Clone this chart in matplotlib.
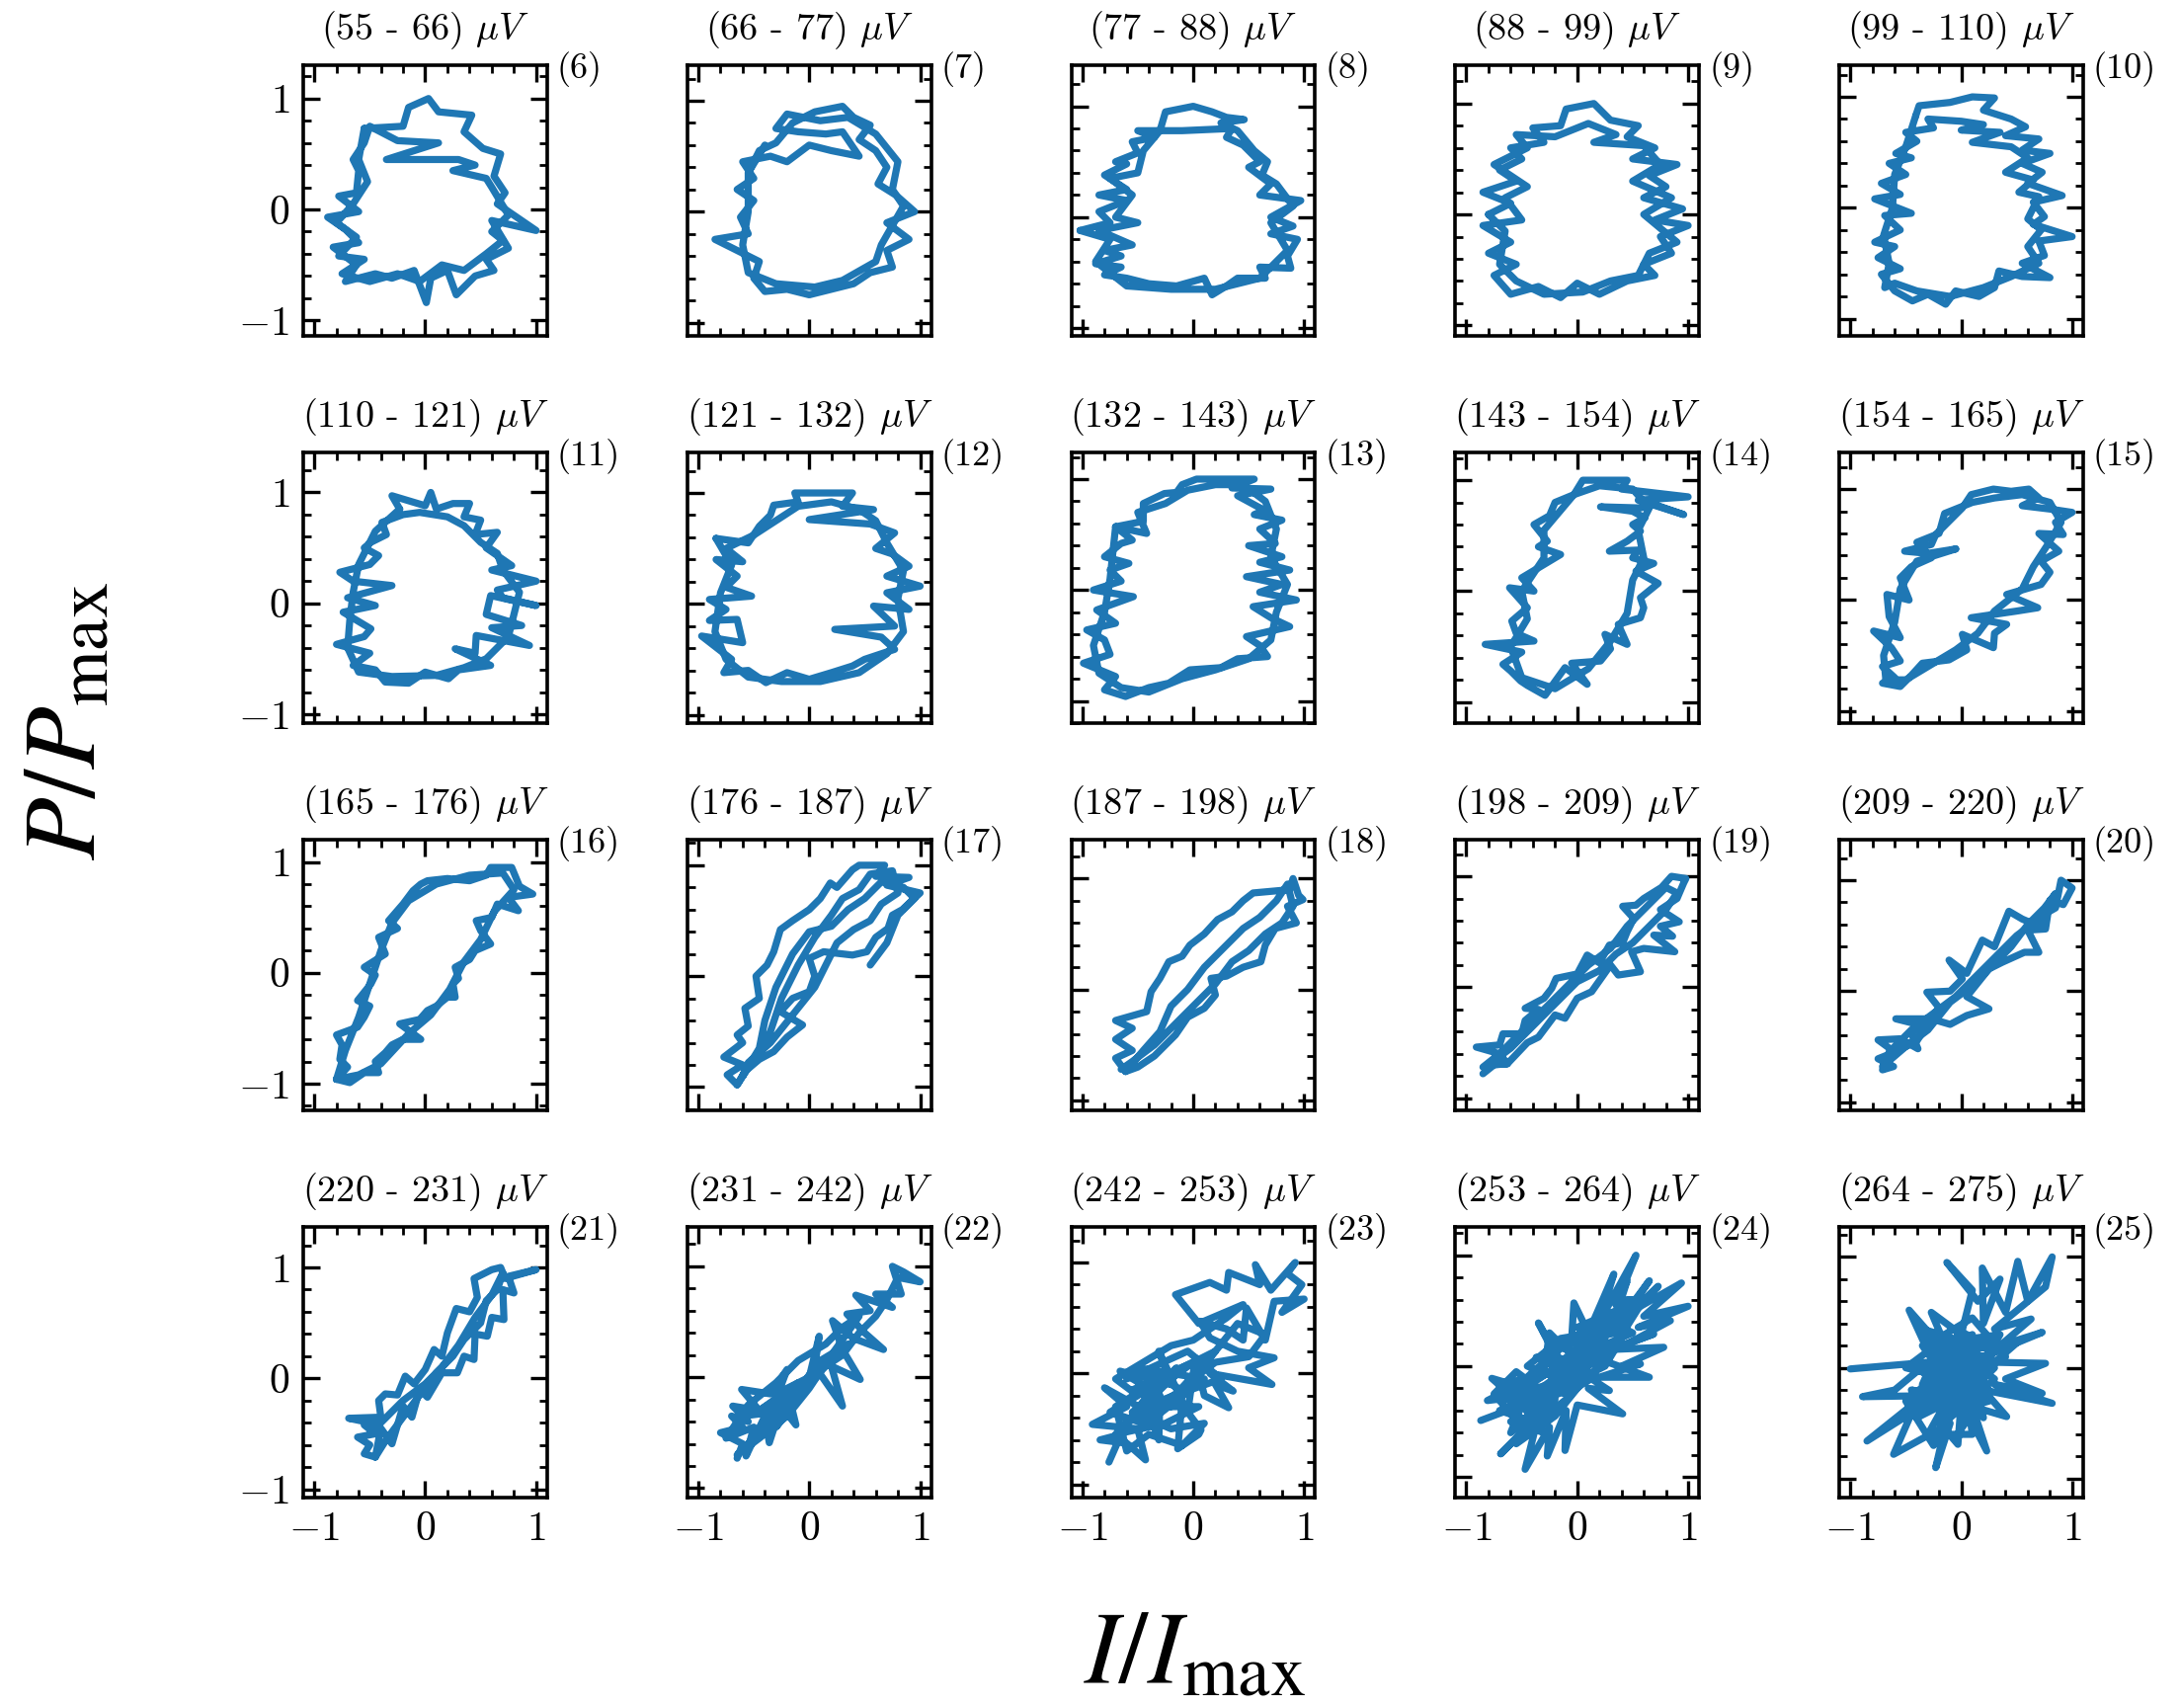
import numpy as np
import matplotlib
matplotlib.use('Agg')
import matplotlib.pyplot as plt
from matplotlib.ticker import MultipleLocator

plt.rcParams.update({
    'font.family': 'serif',
    'font.serif': ['cmr10'],
    'mathtext.fontset': 'cm',
    'axes.formatter.use_mathtext': True,
    'axes.linewidth': 2.6,
    'xtick.direction': 'in',
    'ytick.direction': 'in',
    'xtick.top': True,
    'ytick.right': True,
    'xtick.major.size': 12,
    'ytick.major.size': 12,
    'xtick.minor.size': 6,
    'ytick.minor.size': 6,
    'xtick.major.width': 2.4,
    'ytick.major.width': 2.4,
    'xtick.minor.width': 2.0,
    'ytick.minor.width': 2.0,
    'xtick.major.pad': 10,
    'ytick.major.pad': 10,
    'xtick.labelsize': 30,
    'ytick.labelsize': 30,
})

C_LOOP = '#1f77b4'

# voltage window edges (uV) and run numbers of each panel
v_edges = [55, 66, 77, 88, 99, 110, 121, 132, 143, 154, 165,
           176, 187, 198, 209, 220, 231, 242, 253, 264, 275]
run_ids = list(range(6, 26))

# normalised (I/Imax, P/Pmax) loops, one array per run
loop_06 = np.array([
    (-0.55, 0.73), (-0.2, 0.75), (-0.15, 0.92), (0.03, 1.0), (0.12, 0.88), (0.42, 0.85), (0.35, 0.7),
    (0.52, 0.55), (0.68, 0.5), (0.62, 0.3), (0.72, 0.15), (0.65, 0.05), (1.0, -0.19), (0.6, -0.1),
    (0.75, -0.35), (0.55, -0.45), (0.62, -0.55), (0.45, -0.6), (0.28, -0.77), (0.2, -0.55), (0.05, -0.62),
    (0.01, -0.84), (-0.1, -0.55), (-0.3, -0.62), (-0.45, -0.58), (-0.72, -0.65), (-0.62, -0.5),
    (-0.83, -0.34), (-0.6, -0.3), (-0.72, -0.18), (-0.88, -0.07), (-0.6, -0.02), (-0.78, 0.12),
    (-0.62, 0.15), (-0.6, 0.35), (-0.65, 0.45), (-0.55, 0.6), (-0.5, 0.75), (-0.25, 0.62), (0.12, 0.6),
    (-0.35, 0.45), (0.3, 0.45), (0.45, 0.4), (0.25, 0.35), (0.55, 0.28), (0.6, 0.2), (0.75, -0.05),
    (0.6, -0.2), (0.7, -0.28), (0.55, -0.4), (0.35, -0.55), (0.15, -0.5), (-0.05, -0.65), (-0.25, -0.58),
    (-0.5, -0.65), (-0.75, -0.58), (-0.55, -0.45), (-0.78, -0.42), (-0.62, -0.25), (-0.8, -0.12),
    (-0.65, 0.05), (-0.52, 0.25), (-0.6, 0.45), (-0.55, 0.73)])
loop_07 = np.array([
    (-0.55, 0.35), (-0.45, 0.55), (-0.3, 0.62), (-0.15, 0.8), (0.05, 0.9), (0.3, 0.95), (0.4, 0.85),
    (0.55, 0.78), (0.45, 0.65), (0.6, 0.55), (0.7, 0.4), (0.62, 0.25), (0.78, 0.15), (0.95, 0.0),
    (0.7, -0.1), (0.9, -0.25), (0.7, -0.35), (0.75, -0.5), (0.55, -0.55), (0.4, -0.65), (0.2, -0.7),
    (0.0, -0.75), (-0.2, -0.7), (-0.4, -0.72), (-0.5, -0.6), (-0.45, -0.45), (-0.65, -0.35),
    (-0.85, -0.25), (-0.55, -0.2), (-0.62, -0.05), (-0.5, 0.1), (-0.65, 0.2), (-0.5, 0.3), (-0.6, 0.45),
    (-0.35, 0.5), (-0.2, 0.45), (0.0, 0.6), (0.2, 0.55), (0.45, 0.5), (0.3, 0.72), (0.15, 0.7),
    (-0.1, 0.72), (-0.3, 0.75), (-0.2, 0.88), (0.1, 0.82), (0.35, 0.85), (0.6, 0.7), (0.8, 0.45),
    (0.75, 0.2), (0.85, 0.05), (0.65, -0.3), (0.6, -0.45), (0.3, -0.62), (0.05, -0.68), (-0.3, -0.65),
    (-0.55, -0.55), (-0.6, -0.3), (-0.55, 0.0), (-0.55, 0.35), (-0.4, 0.6)])
loop_08 = np.array([
    (-1.02, -0.12), (-0.75, -0.05), (-0.85, 0.05), (-0.6, 0.15), (-0.85, 0.2), (-0.6, 0.25), (-0.8, 0.38),
    (-0.6, 0.48), (-0.7, 0.5), (-0.5, 0.58), (-0.55, 0.68), (-0.35, 0.72), (-0.5, 0.78), (-0.1, 0.78),
    (0.35, 0.8), (0.3, 0.72), (0.45, 0.65), (0.6, 0.5), (0.5, 0.45), (0.7, 0.3), (0.6, 0.2), (0.97, 0.15),
    (0.7, 0.0), (0.9, -0.08), (0.7, -0.15), (0.94, -0.2), (0.85, -0.35), (0.88, -0.46), (0.6, -0.45),
    (0.65, -0.55), (0.4, -0.55), (0.3, -0.62), (0.17, -0.7), (0.1, -0.55), (-0.15, -0.62), (-0.4, -0.6),
    (-0.6, -0.55), (-0.8, -0.52), (-0.65, -0.45), (-0.88, -0.42), (-0.65, -0.35), (-0.8, -0.3),
    (-0.55, -0.25), (-0.85, -0.12), (-0.5, -0.05), (-0.7, 0.0), (-0.55, 0.2), (-0.75, 0.35), (-0.5, 0.4),
    (-0.45, 0.6), (-0.3, 0.78), (-0.25, 0.95), (0.0, 1.0), (0.17, 0.95), (0.3, 0.9), (0.46, 0.88),
    (0.25, 0.85), (0.4, 0.78), (0.55, 0.6), (0.67, 0.5), (0.62, 0.38), (0.75, 0.3), (0.9, 0.1),
    (0.7, -0.05), (0.85, -0.3), (0.6, -0.55), (0.2, -0.65), (-0.2, -0.65), (-0.6, -0.62), (-0.88, -0.4),
    (-0.75, -0.2), (-1.02, -0.12)])
loop_09 = np.array([
    (-0.8, 0.0), (-0.6, 0.1), (-0.85, 0.2), (-0.55, 0.3), (-0.7, 0.4), (-0.5, 0.5), (-0.6, 0.6),
    (-0.3, 0.65), (-0.4, 0.78), (-0.15, 0.8), (-0.1, 0.95), (0.15, 1.0), (0.3, 0.85), (0.55, 0.8),
    (0.45, 0.7), (0.7, 0.6), (0.5, 0.5), (0.9, 0.45), (0.65, 0.35), (0.8, 0.25), (0.6, 0.15), (0.95, 0.05),
    (0.7, -0.05), (1.0, -0.1), (0.75, -0.2), (0.85, -0.35), (0.6, -0.45), (0.7, -0.55), (0.45, -0.6),
    (0.2, -0.72), (0.0, -0.62), (-0.15, -0.75), (-0.35, -0.65), (-0.6, -0.72), (-0.75, -0.55),
    (-0.55, -0.45), (-0.8, -0.35), (-0.6, -0.25), (-0.85, -0.1), (-0.5, -0.05), (-0.65, 0.15),
    (-0.45, 0.25), (-0.75, 0.45), (-0.45, 0.6), (-0.55, 0.72), (-0.2, 0.7), (0.1, 0.82), (0.35, 0.72),
    (0.15, 0.65), (0.6, 0.62), (0.75, 0.45), (0.5, 0.3), (0.85, 0.15), (0.6, 0.0), (0.9, -0.25),
    (0.65, -0.35), (0.55, -0.55), (0.3, -0.6), (0.05, -0.7), (-0.3, -0.72), (-0.55, -0.6), (-0.7, -0.45),
    (-0.65, -0.15), (-0.8, 0.0)])
loop_10 = np.array([
    (-0.41, 0.83), (-0.38, 0.92), (-0.1, 0.95), (0.1, 1.0), (0.3, 0.99), (0.2, 0.88), (0.45, 0.8),
    (0.58, 0.73), (0.4, 0.65), (0.7, 0.62), (0.55, 0.52), (0.8, 0.49), (0.55, 0.4), (0.73, 0.32),
    (0.6, 0.22), (0.91, 0.11), (0.65, 0.05), (0.75, -0.08), (0.65, -0.15), (1.0, -0.26), (0.7, -0.3),
    (0.75, -0.43), (0.55, -0.5), (0.8, -0.63), (0.55, -0.62), (0.34, -0.57), (0.3, -0.72), (0.16, -0.8),
    (-0.05, -0.75), (-0.14, -0.87), (-0.3, -0.78), (-0.44, -0.84), (-0.6, -0.75), (-0.72, -0.6),
    (-0.55, -0.55), (-0.75, -0.45), (-0.6, -0.35), (-0.78, -0.31), (-0.55, -0.2), (-0.69, -0.07),
    (-0.45, -0.05), (-0.78, 0.08), (-0.55, 0.12), (-0.72, 0.22), (-0.5, 0.3), (-0.65, 0.4), (-0.45, 0.45),
    (-0.59, 0.49), (-0.4, 0.6), (-0.5, 0.68), (-0.25, 0.72), (-0.3, 0.8), (0.0, 0.78), (0.2, 0.75),
    (0.0, 0.7), (0.35, 0.68), (0.1, 0.59), (0.45, 0.55), (0.6, 0.45), (0.4, 0.32), (0.65, 0.25),
    (0.52, 0.14), (0.7, 0.1), (0.6, -0.1), (0.72, -0.2), (0.6, -0.35), (0.7, -0.5), (0.45, -0.62),
    (0.2, -0.72), (-0.1, -0.8), (-0.4, -0.75), (-0.6, -0.68), (-0.69, -0.72), (-0.65, -0.5),
    (-0.7, -0.25), (-0.62, 0.0), (-0.6, 0.3), (-0.5, 0.55), (-0.41, 0.83)])
loop_11 = np.array([
    (-0.23, 0.85), (-0.3, 0.97), (0.0, 0.88), (0.05, 1.0), (0.1, 0.85), (0.25, 0.9), (0.4, 0.9),
    (0.35, 0.78), (0.5, 0.75), (0.45, 0.62), (0.65, 0.64), (0.55, 0.5), (0.78, 0.34), (0.6, 0.3),
    (1.0, 0.2), (0.65, 0.12), (0.7, 0.05), (1.0, -0.02), (0.59, 0.07), (0.55, -0.1), (0.87, -0.2),
    (0.6, -0.22), (0.94, -0.38), (0.46, -0.29), (0.45, -0.45), (0.27, -0.41), (0.59, -0.56), (0.3, -0.6),
    (0.21, -0.68), (0.0, -0.62), (-0.15, -0.72), (-0.36, -0.71), (-0.45, -0.6), (-0.65, -0.56),
    (-0.5, -0.45), (-0.8, -0.37), (-0.55, -0.3), (-0.49, -0.23), (-0.74, -0.08), (-0.45, -0.02),
    (-0.7, 0.05), (-0.3, 0.16), (-0.65, 0.2), (-0.77, 0.28), (-0.5, 0.35), (-0.42, 0.43), (-0.55, 0.5),
    (-0.49, 0.55), (-0.35, 0.62), (-0.39, 0.73), (-0.2, 0.8), (-0.05, 0.82), (0.2, 0.78), (0.35, 0.7),
    (0.5, 0.55), (0.65, 0.45), (0.7, 0.3), (0.85, 0.1), (0.8, -0.1), (0.75, -0.3), (0.55, -0.5),
    (0.35, -0.58), (0.1, -0.65), (-0.3, -0.66), (-0.6, -0.62), (-0.7, -0.4), (-0.68, -0.15),
    (-0.65, 0.1), (-0.6, 0.35), (-0.45, 0.65), (-0.23, 0.85)])
loop_12 = np.array([
    (-0.84, 0.59), (-0.55, 0.55), (-0.45, 0.7), (-0.35, 0.8), (-0.32, 0.89), (-0.1, 0.92), (-0.13, 1.0),
    (0.2, 1.0), (0.39, 1.0), (0.3, 0.88), (0.58, 0.85), (0.0, 0.76), (0.55, 0.72), (0.77, 0.64),
    (0.6, 0.5), (0.75, 0.45), (0.9, 0.34), (0.7, 0.25), (1.0, 0.16), (0.7, 0.1), (0.9, -0.05),
    (0.58, -0.02), (0.77, -0.2), (0.23, -0.23), (0.65, -0.3), (0.77, -0.41), (0.5, -0.5), (0.39, -0.56),
    (0.2, -0.62), (0.0, -0.68), (-0.2, -0.62), (-0.39, -0.71), (-0.55, -0.6), (-0.77, -0.62),
    (-0.7, -0.5), (-0.97, -0.29), (-0.6, -0.35), (-0.65, -0.14), (-0.9, -0.15), (-0.75, -0.05),
    (-0.9, 0.04), (-0.52, 0.07), (-0.75, 0.15), (-0.65, 0.25), (-0.84, 0.4), (-0.6, 0.38), (-0.75, 0.5),
    (-0.5, 0.62), (-0.3, 0.75), (-0.1, 0.88), (0.2, 0.92), (0.45, 0.85), (0.6, 0.75), (0.7, 0.55),
    (0.85, 0.3), (0.8, 0.05), (0.85, -0.25), (0.7, -0.45), (0.45, -0.62), (0.1, -0.7), (-0.25, -0.7),
    (-0.55, -0.66), (-0.75, -0.5), (-0.85, -0.25), (-0.8, 0.1), (-0.7, 0.35), (-0.84, 0.59)])
loop_13 = np.array([
    (-0.7, 0.57), (-0.45, 0.62), (-0.45, 0.78), (-0.26, 0.87), (-0.15, 0.88), (-0.1, 0.95), (0.03, 1.0),
    (0.3, 1.0), (0.55, 1.0), (0.35, 0.92), (0.7, 0.91), (0.4, 0.85), (0.64, 0.72), (0.55, 0.68),
    (0.8, 0.63), (0.6, 0.55), (0.74, 0.42), (0.5, 0.4), (0.8, 0.3), (0.6, 0.25), (0.87, 0.18),
    (0.48, 0.12), (0.8, 0.05), (0.6, -0.02), (0.93, -0.09), (0.54, -0.15), (0.7, -0.25), (0.87, -0.33),
    (0.48, -0.42), (0.6, -0.5), (0.67, -0.6), (0.4, -0.62), (0.25, -0.7), (-0.03, -0.72), (-0.22, -0.84),
    (-0.4, -0.88), (-0.61, -0.96), (-0.8, -0.9), (-0.7, -0.78), (-0.99, -0.66), (-0.75, -0.58),
    (-0.8, -0.45), (-0.96, -0.36), (-0.7, -0.3), (-0.87, -0.18), (-0.54, -0.06), (-0.9, 0.0),
    (-0.65, 0.08), (-0.75, 0.18), (-0.58, 0.24), (-0.8, 0.3), (-0.65, 0.42), (-0.55, 0.45), (-0.7, 0.57),
    (-0.42, 0.51), (-0.5, 0.7), (-0.25, 0.78), (-0.05, 0.9), (0.2, 0.95), (0.45, 0.95), (0.65, 0.8),
    (0.75, 0.55), (0.7, 0.3), (0.85, 0.05), (0.75, -0.2), (0.7, -0.45), (0.5, -0.62), (0.2, -0.72),
    (-0.1, -0.8), (-0.4, -0.92), (-0.65, -0.88), (-0.85, -0.75), (-0.9, -0.5), (-0.8, -0.2),
    (-0.75, 0.1), (-0.7, 0.57)])
loop_14 = np.array([
    (-0.03, 0.87), (0.05, 1.0), (0.3, 1.0), (0.45, 1.0), (0.4, 0.92), (1.0, 0.85), (0.55, 0.82),
    (0.96, 0.69), (0.7, 0.78), (0.57, 0.75), (0.21, 0.76), (0.5, 0.72), (0.61, 0.66), (0.5, 0.6),
    (0.57, 0.54), (0.45, 0.45), (0.29, 0.36), (0.55, 0.37), (0.5, 0.3), (0.69, 0.25), (0.53, 0.18),
    (0.73, 0.07), (0.57, -0.06), (0.6, -0.15), (0.57, -0.24), (0.37, -0.3), (0.45, -0.48), (0.25, -0.39),
    (0.3, -0.52), (0.21, -0.63), (-0.05, -0.65), (0.09, -0.84), (-0.11, -0.69), (-0.29, -0.94),
    (-0.45, -0.85), (-0.51, -0.81), (-0.6, -0.72), (-0.67, -0.66), (-0.5, -0.55), (-0.83, -0.48),
    (-0.39, -0.45), (-0.55, -0.38), (-0.59, -0.27), (-0.45, -0.15), (-0.61, 0.03), (-0.39, 0.0),
    (-0.5, 0.12), (-0.35, 0.21), (-0.15, 0.33), (-0.35, 0.4), (-0.27, 0.45), (-0.39, 0.6), (-0.25, 0.68),
    (-0.2, 0.8), (-0.03, 0.87), (0.2, 0.95), (0.5, 0.92), (0.65, 0.75), (0.55, 0.55), (0.6, 0.3),
    (0.5, 0.1), (0.45, -0.2), (0.3, -0.45), (0.1, -0.7), (-0.2, -0.88), (-0.5, -0.78), (-0.6, -0.5),
    (-0.45, -0.25), (-0.5, 0.0), (-0.3, 0.3), (-0.3, 0.55), (-0.03, 0.87)])
loop_15 = np.array([
    (-0.05, 0.46), (-0.3, 0.42), (-0.51, 0.44), (-0.27, 0.5), (-0.23, 0.59), (-0.11, 0.71), (0.01, 0.83),
    (0.09, 0.95), (0.29, 1.0), (0.45, 0.98), (0.61, 1.0), (0.7, 0.92), (0.55, 0.85), (0.8, 0.82),
    (1.0, 0.79), (0.85, 0.7), (0.92, 0.59), (0.7, 0.6), (0.88, 0.44), (0.72, 0.35), (0.8, 0.25),
    (0.72, 0.14), (0.41, 0.05), (0.69, -0.07), (0.5, -0.1), (0.09, -0.16), (0.41, -0.22), (0.3, -0.3),
    (0.29, -0.43), (0.01, -0.31), (0.05, -0.45), (-0.11, -0.54), (-0.35, -0.57), (-0.45, -0.68),
    (-0.55, -0.78), (-0.71, -0.75), (-0.6, -0.7), (-0.71, -0.6), (-0.55, -0.55), (-0.63, -0.43),
    (-0.79, -0.28), (-0.55, -0.34), (-0.65, -0.15), (-0.67, 0.05), (-0.47, 0.0), (-0.55, 0.2),
    (-0.45, 0.3), (-0.27, 0.38), (-0.4, 0.52), (-0.2, 0.6), (-0.15, 0.78), (0.1, 0.88), (0.3, 0.92),
    (0.55, 0.95), (0.8, 0.88), (0.9, 0.7), (0.78, 0.5), (0.65, 0.3), (0.55, 0.1), (0.3, -0.1),
    (0.15, -0.3), (-0.05, -0.45), (-0.3, -0.6), (-0.5, -0.72), (-0.68, -0.72), (-0.7, -0.5),
    (-0.6, -0.2), (-0.55, 0.1), (-0.4, 0.35), (-0.05, 0.46)])
loop_16 = np.array([
    (-0.8, -0.96), (-0.68, -0.99), (-0.55, -0.9), (-0.42, -0.9), (-0.45, -0.8), (-0.36, -0.72),
    (-0.3, -0.65), (-0.2, -0.6), (-0.04, -0.6), (-0.23, -0.46), (-0.05, -0.42), (0.02, -0.34), (0.1, -0.3),
    (0.2, -0.22), (0.27, -0.22), (0.25, -0.1), (0.3, -0.05), (0.27, 0.05), (0.4, 0.12), (0.45, 0.2),
    (0.59, 0.26), (0.5, 0.38), (0.46, 0.47), (0.6, 0.5), (0.65, 0.62), (0.84, 0.56), (0.75, 0.68),
    (0.97, 0.71), (0.85, 0.78), (0.78, 0.95), (0.59, 0.95), (0.55, 0.88), (0.4, 0.83), (0.2, 0.85),
    (0.02, 0.83), (-0.04, 0.8), (-0.11, 0.74), (-0.2, 0.62), (-0.33, 0.47), (-0.25, 0.4), (-0.42, 0.32),
    (-0.36, 0.17), (-0.55, 0.05), (-0.45, -0.02), (-0.49, -0.1), (-0.61, -0.25), (-0.5, -0.3),
    (-0.55, -0.4), (-0.61, -0.49), (-0.8, -0.56), (-0.75, -0.65), (-0.77, -0.78), (-0.7, -0.85),
    (-0.8, -0.96), (-0.6, -0.92), (-0.4, -0.82), (-0.15, -0.55), (0.05, -0.38), (0.22, -0.15),
    (0.35, 0.1), (0.5, 0.3), (0.62, 0.55), (0.8, 0.75), (0.7, 0.9), (0.4, 0.88), (0.1, 0.8),
    (-0.15, 0.65), (-0.3, 0.45), (-0.4, 0.2), (-0.5, -0.1), (-0.6, -0.4), (-0.72, -0.7), (-0.8, -0.96)])
loop_17 = np.array([
    (-0.65, -0.98), (-0.74, -0.89), (-0.6, -0.8), (-0.77, -0.73), (-0.6, -0.6), (-0.65, -0.53),
    (-0.55, -0.45), (-0.58, -0.29), (-0.45, -0.2), (-0.48, 0.0), (-0.38, 0.1), (-0.32, 0.22),
    (-0.26, 0.42), (-0.15, 0.5), (0.0, 0.6), (0.1, 0.7), (0.19, 0.84), (0.25, 0.8), (0.39, 0.96),
    (0.45, 1.0), (0.68, 1.0), (0.6, 0.9), (0.9, 0.89), (0.7, 0.82), (1.0, 0.75), (0.84, 0.6),
    (0.75, 0.55), (0.71, 0.43), (0.6, 0.35), (0.52, 0.22), (0.39, 0.19), (0.13, 0.22), (0.0, 0.16),
    (0.05, 0.0), (0.0, -0.14), (-0.15, -0.2), (-0.26, -0.32), (-0.06, -0.44), (-0.2, -0.55),
    (-0.32, -0.68), (-0.45, -0.75), (-0.58, -0.86), (-0.65, -0.98), (-0.5, -0.75), (-0.35, -0.5),
    (-0.25, -0.2), (-0.1, 0.1), (0.05, 0.35), (0.2, 0.55), (0.3, 0.7), (0.45, 0.78), (0.55, 0.92),
    (0.75, 0.95), (0.8, 0.75), (0.65, 0.65), (0.55, 0.5), (0.4, 0.42), (0.25, 0.3), (0.15, 0.1),
    (0.05, -0.1), (-0.15, -0.35), (-0.35, -0.6), (-0.55, -0.78), (-0.6, -0.9), (-0.45, -0.65),
    (-0.4, -0.4), (-0.3, -0.1), (-0.15, 0.2), (0.0, 0.4), (0.2, 0.45), (0.35, 0.6), (0.5, 0.7),
    (0.65, 0.85), (0.85, 0.8), (0.95, 0.7), (0.8, 0.55), (0.7, 0.3), (0.55, 0.1)])
loop_18 = np.array([
    (-0.61, -0.74), (-0.7, -0.62), (-0.55, -0.55), (-0.7, -0.45), (-0.55, -0.35), (-0.7, -0.28),
    (-0.42, -0.2), (-0.38, -0.02), (-0.3, 0.1), (-0.22, 0.25), (-0.1, 0.3), (-0.03, 0.4), (0.1, 0.5),
    (0.22, 0.63), (0.35, 0.7), (0.45, 0.8), (0.54, 0.87), (0.87, 0.9), (0.9, 1.0), (0.95, 0.85),
    (0.99, 0.81), (0.85, 0.75), (0.93, 0.6), (0.74, 0.55), (0.65, 0.4), (0.61, 0.25), (0.45, 0.2),
    (0.3, 0.12), (0.16, 0.1), (0.2, -0.05), (0.1, -0.17), (-0.05, -0.25), (-0.16, -0.41), (-0.25, -0.5),
    (-0.35, -0.6), (-0.5, -0.7), (-0.61, -0.74), (-0.45, -0.55), (-0.3, -0.38), (-0.2, -0.15),
    (-0.05, 0.0), (0.1, 0.2), (0.3, 0.4), (0.45, 0.55), (0.6, 0.65), (0.75, 0.8), (0.85, 0.95),
    (0.9, 0.75), (0.8, 0.6), (0.65, 0.5), (0.5, 0.35), (0.35, 0.25), (0.2, 0.05), (0.05, -0.1),
    (-0.15, -0.3), (-0.35, -0.5), (-0.55, -0.65), (-0.65, -0.72)])
loop_19 = np.array([
    (-0.85, -0.78), (-0.75, -0.7), (-0.63, -0.69), (-0.7, -0.6), (-0.91, -0.54), (-0.7, -0.52),
    (-0.67, -0.42), (-0.5, -0.42), (-0.47, -0.3), (-0.35, -0.2), (-0.47, -0.19), (-0.3, -0.1),
    (-0.23, -0.01), (-0.19, 0.08), (0.0, 0.12), (0.09, 0.29), (0.2, 0.22), (0.29, 0.38), (0.41, 0.4),
    (0.45, 0.5), (0.51, 0.62), (0.41, 0.73), (0.53, 0.74), (0.6, 0.8), (0.76, 0.9), (0.85, 1.0),
    (0.98, 0.98), (0.96, 0.94), (0.9, 0.8), (0.75, 0.7), (0.92, 0.59), (0.75, 0.55), (0.86, 0.46),
    (0.69, 0.47), (0.88, 0.32), (0.6, 0.35), (0.49, 0.32), (0.57, 0.14), (0.37, 0.11), (0.3, 0.2),
    (0.13, -0.04), (0.0, -0.1), (-0.11, -0.28), (-0.2, -0.25), (-0.35, -0.45), (-0.45, -0.5),
    (-0.63, -0.69), (-0.8, -0.7), (-0.6, -0.55), (-0.4, -0.35), (-0.2, -0.15), (0.0, 0.05), (0.2, 0.15),
    (0.35, 0.3), (0.5, 0.4), (0.65, 0.55), (0.8, 0.7), (0.9, 0.85), (0.8, 0.9), (0.6, 0.7),
    (0.45, 0.55), (0.3, 0.35), (0.1, 0.2), (-0.1, 0.0), (-0.3, -0.2), (-0.5, -0.4), (-0.7, -0.6),
    (-0.85, -0.72)])
loop_20 = np.array([
    (-0.71, -0.71), (-0.61, -0.68), (-0.75, -0.61), (-0.6, -0.55), (-0.75, -0.44), (-0.55, -0.43),
    (-0.39, -0.52), (-0.45, -0.38), (-0.35, -0.31), (-0.59, -0.25), (-0.27, -0.25), (-0.2, -0.15),
    (-0.31, -0.01), (-0.1, 0.0), (0.01, 0.11), (-0.11, 0.28), (0.05, 0.16), (0.19, 0.46), (0.3, 0.4),
    (0.43, 0.72), (0.55, 0.65), (0.69, 0.59), (0.78, 0.71), (0.85, 0.75), (0.9, 1.0), (1.0, 0.93),
    (0.92, 0.78), (0.8, 0.82), (0.76, 0.56), (0.6, 0.55), (0.7, 0.35), (0.57, 0.35), (0.37, 0.26),
    (0.25, 0.2), (0.05, -0.05), (0.25, -0.16), (0.05, -0.22), (-0.1, -0.3), (-0.27, -0.25),
    (-0.4, -0.45), (-0.6, -0.55), (-0.71, -0.68), (-0.5, -0.5), (-0.3, -0.35), (-0.1, -0.1),
    (0.1, 0.05), (0.3, 0.25), (0.45, 0.4), (0.6, 0.6), (0.75, 0.75), (0.85, 0.88), (0.7, 0.65),
    (0.5, 0.5), (0.35, 0.35), (0.15, 0.15), (-0.05, -0.05), (-0.25, -0.2), (-0.45, -0.35),
    (-0.65, -0.55), (-0.7, -0.7)])
loop_21 = np.array([
    (-0.45, -0.71), (-0.55, -0.68), (-0.5, -0.6), (-0.61, -0.53), (-0.45, -0.5), (-0.55, -0.42),
    (-0.45, -0.41), (-0.69, -0.36), (-0.4, -0.35), (-0.42, -0.2), (-0.36, -0.14), (-0.25, -0.15),
    (-0.18, 0.02), (-0.1, -0.05), (0.0, 0.08), (0.08, 0.26), (0.15, 0.2), (0.2, 0.41), (0.28, 0.63),
    (0.4, 0.6), (0.47, 0.73), (0.44, 0.9), (0.6, 0.98), (0.68, 1.0), (0.72, 0.9), (1.0, 0.98),
    (0.75, 0.92), (0.8, 0.77), (0.7, 0.8), (0.71, 0.53), (0.6, 0.55), (0.56, 0.38), (0.45, 0.4),
    (0.44, 0.17), (0.35, 0.2), (0.29, 0.05), (0.15, 0.05), (0.02, -0.17), (-0.05, -0.1), (-0.12, -0.35),
    (-0.2, -0.25), (-0.3, -0.59), (-0.4, -0.45), (-0.45, -0.71), (-0.35, -0.55), (-0.2, -0.35),
    (-0.05, -0.15), (0.1, 0.05), (0.25, 0.2), (0.35, 0.35), (0.5, 0.5), (0.55, 0.7), (0.65, 0.8),
    (0.7, 0.95), (0.6, 0.75), (0.45, 0.55), (0.3, 0.3), (0.15, 0.1), (0.0, -0.05), (-0.2, -0.2),
    (-0.35, -0.35), (-0.5, -0.5)])
loop_22 = np.array([
    (-0.65, -0.73), (-0.6, -0.6), (-0.8, -0.5), (-0.6, -0.45), (-0.7, -0.35), (-0.55, -0.4),
    (-0.69, -0.26), (-0.45, -0.3), (-0.61, -0.11), (-0.35, -0.15), (-0.2, 0.07), (-0.3, -0.2),
    (-0.12, -0.43), (-0.2, -0.1), (0.0, 0.0), (0.09, 0.37), (0.05, 0.1), (0.3, -0.26), (0.2, 0.1),
    (0.46, -0.02), (0.3, 0.25), (0.21, 0.51), (0.4, 0.35), (0.67, 0.25), (0.5, 0.4), (0.34, 0.57),
    (0.55, 0.6), (0.42, 0.74), (0.75, 0.63), (0.6, 0.75), (0.83, 0.75), (0.75, 1.0), (0.85, 0.95),
    (1.0, 0.86), (0.8, 0.9), (0.7, 0.7), (0.6, 0.55), (0.45, 0.4), (0.3, 0.2), (0.15, 0.1), (-0.05, -0.1),
    (-0.25, -0.25), (-0.36, -0.59), (-0.4, -0.35), (-0.57, -0.71), (-0.5, -0.45), (-0.75, -0.55),
    (-0.55, -0.25), (-0.3, -0.05), (-0.1, 0.15), (0.15, 0.3), (0.3, 0.45), (0.45, 0.55), (0.2, 0.2),
    (0.0, -0.1), (-0.2, -0.35), (-0.45, -0.55), (-0.65, -0.7), (-0.5, -0.55), (-0.3, -0.25),
    (-0.6, -0.35), (-0.2, -0.3), (-0.55, -0.6), (-0.1, -0.05), (-0.45, -0.3), (0.1, 0.05),
    (-0.3, -0.45), (0.2, 0.2), (-0.15, -0.15), (0.35, 0.3), (0.1, 0.15), (-0.4, -0.5)])
loop_23 = np.array([
    (-0.76, -0.8), (-0.65, -0.55), (-0.84, -0.6), (-0.6, -0.63), (-0.43, -0.78), (-0.5, -0.5),
    (-0.91, -0.46), (-0.6, -0.3), (-0.8, -0.13), (-0.4, -0.35), (-0.31, -0.6), (-0.3, -0.2),
    (-0.66, 0.02), (-0.2, -0.1), (-0.31, 0.2), (-0.1, -0.25), (-0.14, -0.68), (0.05, -0.55),
    (0.07, -0.51), (-0.05, -0.35), (0.02, 0.14), (0.1, -0.2), (0.32, -0.31), (0.2, -0.1), (0.36, -0.16),
    (0.15, 0.0), (0.71, -0.1), (0.5, 0.05), (0.73, 0.14), (0.4, 0.2), (0.15, 0.32), (0.06, 0.47),
    (0.3, 0.4), (0.45, 0.3), (0.48, 0.59), (0.65, 0.3), (0.73, 0.65), (1.0, 0.67), (0.8, 0.55),
    (0.98, 0.8), (0.85, 0.9), (0.92, 1.0), (0.7, 0.75), (0.56, 0.98), (0.6, 0.8), (0.32, 0.91),
    (0.3, 0.75), (0.15, 0.82), (-0.16, 0.71), (0.05, 0.45), (0.45, 0.62), (0.3, 0.5), (0.0, 0.3),
    (-0.2, 0.25), (-0.45, 0.1), (-0.7, -0.05), (-0.5, -0.2), (-0.75, -0.35), (-0.45, -0.45),
    (-0.25, -0.3), (0.0, -0.05), (0.2, 0.1), (0.5, 0.15), (0.65, 0.35), (0.4, 0.45), (0.2, 0.2),
    (-0.1, 0.05), (-0.3, -0.15), (-0.55, -0.35), (-0.2, -0.5), (0.1, -0.45), (-0.1, -0.65),
    (-0.4, -0.55), (-0.6, -0.7), (-0.7, -0.3), (-0.3, -0.05), (-0.6, -0.45), (-0.1, -0.15),
    (-0.5, 0.05), (0.1, -0.05), (-0.35, -0.4), (0.2, 0.2), (-0.2, -0.3), (-0.55, -0.15), (0.0, 0.1),
    (-0.4, -0.2), (-0.15, 0.05), (-0.7, -0.55), (-0.25, -0.45), (0.05, -0.3), (-0.45, -0.3),
    (0.25, -0.05), (-0.05, 0.2), (-0.6, -0.05)])
loop_24 = np.array([
    (-0.87, -0.49), (-0.5, -0.35), (-0.77, -0.11), (-0.3, -0.25), (-0.81, -0.31), (-0.4, -0.1),
    (-0.6, -0.6), (-0.2, -0.3), (-0.69, -0.79), (-0.35, -0.45), (-0.47, -0.93), (-0.25, -0.55),
    (-0.27, -0.81), (-0.1, -0.4), (-0.11, -0.76), (0.0, -0.35), (0.41, -0.43), (0.1, -0.2), (0.29, -0.22),
    (-0.2, 0.1), (-0.37, 0.08), (-0.1, -0.05), (-0.35, 0.39), (-0.15, 0.0), (0.2, 0.05), (-0.05, 0.25),
    (-0.03, 0.57), (0.1, 0.3), (0.33, 0.83), (0.2, 0.4), (0.53, 1.0), (0.35, 0.55), (0.45, 0.77),
    (0.3, 0.3), (0.65, 0.77), (0.4, 0.4), (0.73, 0.72), (0.5, 0.5), (0.94, 0.75), (0.6, 0.45),
    (1.0, 0.54), (0.55, 0.35), (0.84, 0.41), (0.45, 0.2), (0.69, 0.29), (0.3, 0.15), (0.78, 0.17),
    (0.4, 0.0), (0.57, 0.02), (0.2, -0.1), (0.65, -0.1), (0.1, 0.1), (0.09, 0.38), (-0.1, 0.15),
    (-0.25, 0.3), (-0.3, -0.05), (-0.6, -0.15), (-0.45, -0.3), (-0.7, -0.4), (-0.4, -0.5), (-0.55, -0.7),
    (-0.2, -0.45), (0.0, -0.2), (-0.2, -0.1), (-0.45, 0.0), (-0.2, 0.2), (0.0, 0.1), (0.25, 0.25),
    (0.15, -0.1), (-0.1, -0.25), (-0.35, -0.2), (-0.55, -0.05), (-0.75, -0.25), (-0.5, -0.55),
    (-0.3, -0.35), (-0.05, -0.05), (0.25, 0.35), (0.45, 0.6), (0.6, 0.6), (0.35, 0.2), (0.1, 0.0),
    (-0.15, -0.2), (-0.6, -0.4), (-0.2, -0.15), (-0.55, -0.25), (-0.1, 0.05), (-0.45, -0.45),
    (0.1, -0.05), (-0.3, 0.05), (0.3, 0.1), (-0.15, 0.25), (0.45, 0.35), (0.0, 0.35), (0.35, 0.5),
    (0.15, 0.15), (0.5, 0.3), (0.2, 0.45), (-0.05, 0.0), (-0.4, -0.25), (-0.15, -0.4), (-0.6, -0.5),
    (-0.3, -0.6), (-0.5, -0.35), (-0.2, -0.2), (0.05, 0.2), (0.3, 0.45), (0.55, 0.55), (0.35, 0.3),
    (0.1, 0.25), (-0.25, -0.05), (-0.5, -0.2), (-0.35, -0.5), (-0.1, -0.3), (0.2, 0.0), (0.4, 0.25),
    (0.25, 0.0), (-0.05, -0.15), (-0.35, -0.35), (-0.65, -0.3), (-0.4, -0.05), (-0.1, 0.2), (0.2, 0.3)])
loop_25 = np.array([
    (-1.0, -0.01), (-0.3, 0.05), (-0.6, -0.2), (-0.89, -0.26), (-0.2, -0.25), (-0.85, -0.66),
    (-0.4, -0.3), (-0.61, -0.78), (-0.1, -0.5), (-0.23, -0.9), (-0.15, -0.55), (-0.03, -0.69),
    (0.0, -0.3), (0.23, -0.75), (0.1, -0.35), (0.41, -0.44), (0.2, -0.2), (0.82, -0.32), (0.3, -0.15),
    (0.73, -0.23), (0.4, -0.1), (0.76, 0.04), (0.3, 0.05), (0.53, 0.25), (0.2, 0.1), (0.73, 0.32),
    (0.35, 0.2), (0.63, 0.44), (0.3, 0.35), (0.76, 0.73), (0.82, 1.0), (0.6, 0.6), (0.51, 0.96),
    (0.4, 0.5), (0.19, 0.9), (0.2, 0.4), (0.35, 0.8), (0.15, 0.6), (-0.13, 0.95), (0.1, 0.7), (0.0, 0.3),
    (-0.27, 0.5), (-0.1, 0.1), (-0.47, 0.52), (-0.3, 0.15), (-0.5, 0.0), (-0.1, -0.1), (-0.4, -0.45),
    (-0.2, -0.35), (0.1, 0.0), (0.2, -0.45), (-0.05, -0.15), (-0.3, -0.6), (0.1, -0.6), (0.0, 0.15),
    (0.2, 0.25), (-0.2, -0.05), (-0.5, -0.3), (-0.25, -0.7), (0.05, -0.1), (0.4, 0.1), (0.1, 0.45),
    (-0.15, 0.3), (-0.35, -0.15), (-0.1, -0.4), (0.25, -0.3), (0.15, 0.05), (-0.2, 0.2), (-0.05, -0.25),
    (-0.4, 0.0), (0.1, -0.2), (-0.3, -0.35), (0.2, 0.1), (-0.2, 0.25), (0.3, -0.1), (-0.1, -0.45),
    (0.35, 0.3), (-0.35, 0.2), (0.0, -0.3), (-0.45, -0.2), (0.2, -0.3), (-0.15, 0.1), (0.25, 0.2),
    (-0.05, 0.35), (0.15, -0.15), (-0.3, -0.1), (0.05, 0.05), (-0.2, -0.5), (0.3, 0.0), (-0.1, 0.2),
    (-0.4, -0.4), (0.1, 0.3), (0.0, -0.55), (0.25, -0.2), (-0.25, 0.0), (0.15, 0.2), (-0.05, -0.35),
    (0.3, 0.15), (-0.35, 0.35), (-0.1, -0.2)])

loops = [loop_06, loop_07, loop_08, loop_09, loop_10,
         loop_11, loop_12, loop_13, loop_14, loop_15,
         loop_16, loop_17, loop_18, loop_19, loop_20,
         loop_21, loop_22, loop_23, loop_24, loop_25]

fig_w, fig_h = 22.07, 17.29
fig, axes = plt.subplots(4, 5, figsize=(fig_w, fig_h), dpi=100)
fig.subplots_adjust(left=0.1391, right=0.9556, bottom=0.1232, top=0.9618,
                    wspace=0.574, hspace=0.431)

for k, ax in enumerate(axes.flat):
    row, col = divmod(k, 5)
    pts = loops[k]
    ax.plot(pts[:, 0], pts[:, 1], color=C_LOOP, linewidth=5.2,
            solid_joinstyle='round', solid_capstyle='round')

    # equal scaling on both axes, y window centred on the loop
    ax.set_xlim(-1.1, 1.1)
    pos = ax.get_position()
    box_ratio = (pos.height * fig_h) / (pos.width * fig_w)
    yc = 0.5 * (pts[:, 1].min() + pts[:, 1].max())
    ax.set_ylim(yc - 1.1 * box_ratio, yc + 1.1 * box_ratio)

    ax.xaxis.set_major_locator(MultipleLocator(1))
    ax.xaxis.set_minor_locator(MultipleLocator(0.2))
    ax.yaxis.set_major_locator(MultipleLocator(1))
    ax.yaxis.set_minor_locator(MultipleLocator(0.2))
    ax.tick_params(which='both', top=True, right=True, direction='in')
    if col != 0:
        ax.tick_params(labelleft=False)
    if row != 3:
        ax.tick_params(labelbottom=False)

    ax.set_title(rf'({v_edges[k]} - {v_edges[k + 1]}) $\mu V$', fontsize=27.5, pad=19)
    ax.text(1.04, 1.05, f'({run_ids[k]})', transform=ax.transAxes,
            ha='left', va='top', fontsize=26)

fig.text(0.032, 0.578, r'$P/P_{\rm max}$', rotation=90, ha='center', va='center',
         fontsize=75, math_fontfamily='stix')
fig.text(0.548, 0.030, r'$I/I_{\rm max}$', ha='center', va='center',
         fontsize=75, math_fontfamily='stix')

fig.savefig('out.png', dpi=100)
